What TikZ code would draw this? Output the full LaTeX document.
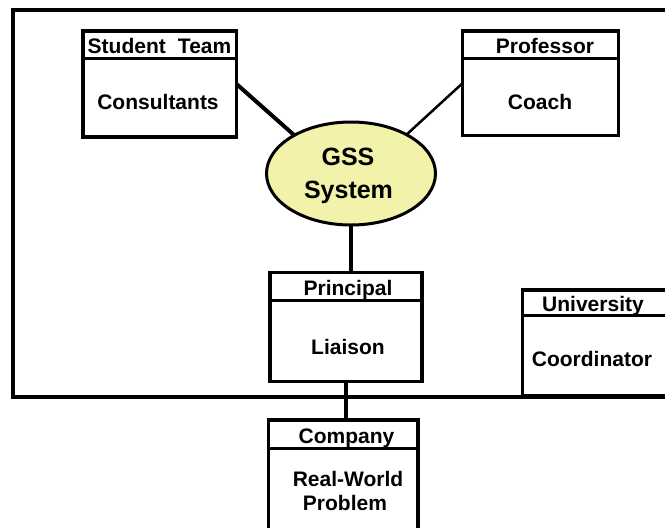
\documentclass[tikz,border=0pt]{standalone}
\usepackage{fontspec}
\setmainfont{Liberation Sans}
\usetikzlibrary{shapes.geometric}
\definecolor{gssfill}{RGB}{242,242,170}
\begin{document}
\begin{tikzpicture}[x=1pt,y=-1pt,
  frame/.style={draw, line width=4pt},
  card/.style={draw, rectangle, line width=3.5pt, inner sep=0pt, outer sep=0pt, fill=white},
  divider/.style={line width=3pt},
  lbl/.style={font=\fontsize{21}{23}\selectfont\bfseries, inner sep=0pt, anchor=base},
  biglbl/.style={font=\fontsize{25}{27}\selectfont\bfseries, inner sep=0pt, anchor=base},
  bubble/.style={draw, ellipse, line width=3pt, fill=gssfill, inner sep=0pt, outer sep=0pt},
  link/.style={line width=4pt},
  thinlink/.style={line width=2.5pt}]
\useasboundingbox (0,0) rectangle (665,528);

% enclosing frame
\draw[frame] (13,10) rectangle (720,397);

% central GSS ellipse
\node[bubble, minimum width=169pt, minimum height=103pt] (gss) at (351,173.5) {};
\node[biglbl] (gssA) at (348,165) {GSS};
\node[biglbl] (gssB) at (348.5,198) {System};

% role cards: header band + body
\node[card, minimum width=153.5pt, minimum height=106pt] (student) at (159.75,84) {};
\draw[divider] (student.west |- 0,58) -- (student.east |- 0,58);
\node[lbl] (studentH) at (159.5,53) {Student\hspace{0.3em} Team};
\node[lbl] (studentB) at (158,109) {Consultants};

\node[card, minimum width=156pt, minimum height=104.5pt] (prof) at (540.5,83.25) {};
\draw[divider] (prof.west |- 0,58) -- (prof.east |- 0,58);
\node[lbl] (profH) at (545,53) {Professor};
\node[lbl] (profB) at (540,109) {Coach};

\node[card, minimum width=152pt, minimum height=109pt] (principal) at (346,327) {};
\draw[divider] (principal.west |- 0,300) -- (principal.east |- 0,300);
\node[lbl] (principalH) at (348,295) {Principal};
\node[lbl] (principalB) at (348,354) {Liaison};

\node[card, minimum width=197.5pt, minimum height=106pt] (univ) at (621.25,343) {};
\draw[divider] (univ.west |- 0,315) -- (univ.east |- 0,315);
\node[lbl] (univH) at (593,311.5) {University};
\node[lbl] (univB) at (592,366.5) {Coordinator};

\node[card, minimum width=149.5pt, minimum height=140pt] (company) at (343.25,490) {};
\draw[divider] (company.west |- 0,448) -- (company.east |- 0,448);
\node[lbl] (companyH) at (346.5,443) {Company};
\node[lbl] (companyB1) at (348,486.5) {Real-World};
\node[lbl] (companyB2) at (345,510) {Problem};

% connectors
\draw[link] (student.east) -- (gss.146);
\draw[thinlink] (prof.west) -- (gss.35);
\draw[link] (gss.south) -- (gss.south |- principal.north);
\draw[link] (principal.south) -- (principal.south |- company.north);
\end{tikzpicture}
\end{document}
